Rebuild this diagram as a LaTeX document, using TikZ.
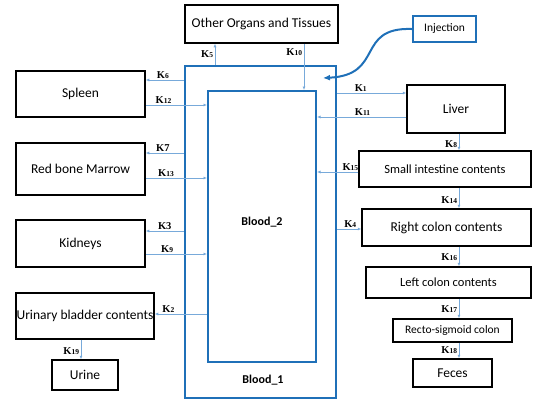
\documentclass[tikz,border=0pt]{standalone}
\usepackage{fontspec}
\setmainfont{Carlito}
\newfontfamily\kfont{Liberation Serif}
\usetikzlibrary{arrows.meta}
\definecolor{boxblue}{RGB}{31,112,184}
\definecolor{flowblue}{RGB}{120,170,218}
\newcommand{\K}[1]{{\kfont\bfseries\fontsize{10.5}{12}\selectfont K\fontsize{7.5}{9}\selectfont #1}}
\newcommand{\Kbig}[1]{{\kfont\bfseries\fontsize{10.5}{12}\selectfont K#1}}

\begin{document}
\begin{tikzpicture}[x=1pt,y=-1pt,
    organ/.style={draw=black,line width=1.5pt,inner sep=0pt,align=center,
        font=\fontsize{13.5}{15}\selectfont},
    blood/.style={draw=boxblue,line width=2pt,inner sep=0pt},
    flow/.style={draw=flowblue,line width=.8pt,-{Latex[length=3.5pt,width=3pt]}},
    klab/.style={inner sep=1.5pt}]

        \useasboundingbox (0,0) rectangle (533,400);

        % the two blood compartments
        \node[blood,line width=2.5pt,minimum width=151,minimum height=332] (blood1) at (260.5,232) {};
        \node[blood,minimum width=108,minimum height=271] (blood2) at (262,226.5) {};
        \node[font=\bfseries\fontsize{12}{14}\selectfont] (b2lab) at (262,222) {Blood\_2};
        \node[font=\bfseries\fontsize{12}{14}\selectfont] (b1lab) at (263,380) {Blood\_1};

        % organs
        \node[organ,minimum width=153,minimum height=38] (organs) at (261.5,24) {Other Organs and Tissues};
        \node[organ,draw=boxblue,line width=2pt,minimum width=63,minimum height=26,
              font=\fontsize{11.5}{13}\selectfont] (inject) at (444.5,29) {Injection};
        \node[organ,minimum width=129,minimum height=46] (spleen) at (80.5,94) {Spleen};
        \node[organ,minimum width=129,minimum height=52] (marrow) at (80.5,169) {Red bone Marrow};
        \node[organ,minimum width=129,minimum height=47] (kidneys) at (80.5,243.5) {Kidneys};
        \node[organ,minimum width=138,minimum height=46] (bladder) at (85,316) {Urinary bladder contents};
        \node[organ,minimum width=66,minimum height=30] (urine) at (85,375) {Urine};
        \node[organ,minimum width=98,minimum height=48] (liver) at (456,109) {Liver};
        \node[organ,minimum width=172,minimum height=36,font=\fontsize{12.5}{14}\selectfont] (small) at (445,169) {Small intestine contents};
        \node[organ,minimum width=169,minimum height=37] (rcolon) at (446.5,227.5) {Right colon contents};
        \node[organ,minimum width=165,minimum height=31,font=\fontsize{12.5}{14}\selectfont] (lcolon) at (448.5,282.5) {Left colon contents};
        \node[organ,minimum width=119,minimum height=23,font=\fontsize{11.5}{13}\selectfont] (recto) at (452.5,330.5) {Recto-sigmoid colon};
        \node[organ,minimum width=79,minimum height=28] (feces) at (452.5,373) {Feces};

        % injection into blood
        \draw[boxblue,line width=2pt,-{Latex[length=7pt,width=6pt]}] (inject.west)
            .. controls (355,27) and (385,75) .. (323,78);

        % transfers on the left
        \draw[flow] (blood1.north -| 215,0) -- node[klab,left,pos=.5] {\K{5}} (organs.south -| 215,0);
        \draw[flow] (organs.south -| 304,0) -- node[klab,left,pos=.19] {\K{10}} (blood2.north -| 304,0);
        \draw[flow] (blood1.west |- 0,80) -- node[klab,above,pos=.55] {\K{6}} (spleen.east |- 0,80);
        \draw[flow] (spleen.east |- 0,105) -- node[klab,above,pos=.29] {\K{12}} (blood2.west |- 0,105);
        \draw[flow] (blood1.west |- 0,153) -- node[klab,above,pos=.55] {\Kbig{7}} (marrow.east |- 0,153);
        \draw[flow] (marrow.east |- 0,178) -- node[klab,above,pos=.33] {\K{13}} (blood2.west |- 0,178);
        \draw[flow] (blood1.west |- 0,231) -- node[klab,above,pos=.5] {\Kbig{3}} (kidneys.east |- 0,231);
        \draw[flow] (kidneys.east |- 0,254) -- node[klab,above,pos=.35] {\K{9}} (blood2.west |- 0,254);
        \draw[flow] (blood2.west |- 0,314) -- node[klab,above,pos=.74] {\K{2}} (bladder.east |- 0,314);
        \draw[flow] (bladder.south -| 81,0) -- node[klab,left,pos=.6] {\K{19}} (urine.north -| 81,0);

        % transfers on the right
        \draw[flow] (blood1.east |- 0,93) -- node[klab,above,pos=.34] {\K{1}} (liver.west |- 0,93);
        \draw[flow] (liver.west |- 0,117) -- node[klab,above,pos=.49] {\K{11}} (blood2.east |- 0,117);
        \draw[flow] (liver.south -| 459,0) -- node[klab,left,pos=.6] {\K{8}} (small.north -| 459,0);
        \draw[flow] (small.west |- 0,172) -- node[klab,above,pos=.19] {\K{15}} (blood2.east |- 0,172);
        \draw[flow] (small.south -| 459,0) -- node[klab,left,pos=.6] {\K{14}} (rcolon.north -| 459,0);
        \draw[flow] (blood1.east |- 0,229) -- node[klab,above,pos=.54] {\K{4}} (rcolon.west |- 0,229);
        \draw[flow] (rcolon.south -| 459,0) -- node[klab,left,pos=.55] {\K{16}} (lcolon.north -| 459,0);
        \draw[flow] (lcolon.south -| 459,0) -- node[klab,left,pos=.55] {\K{17}} (recto.north -| 459,0);
        \draw[flow] (recto.south -| 459,0) -- node[klab,left,pos=.5] {\K{18}} (feces.north -| 459,0);
\end{tikzpicture}
\end{document}
